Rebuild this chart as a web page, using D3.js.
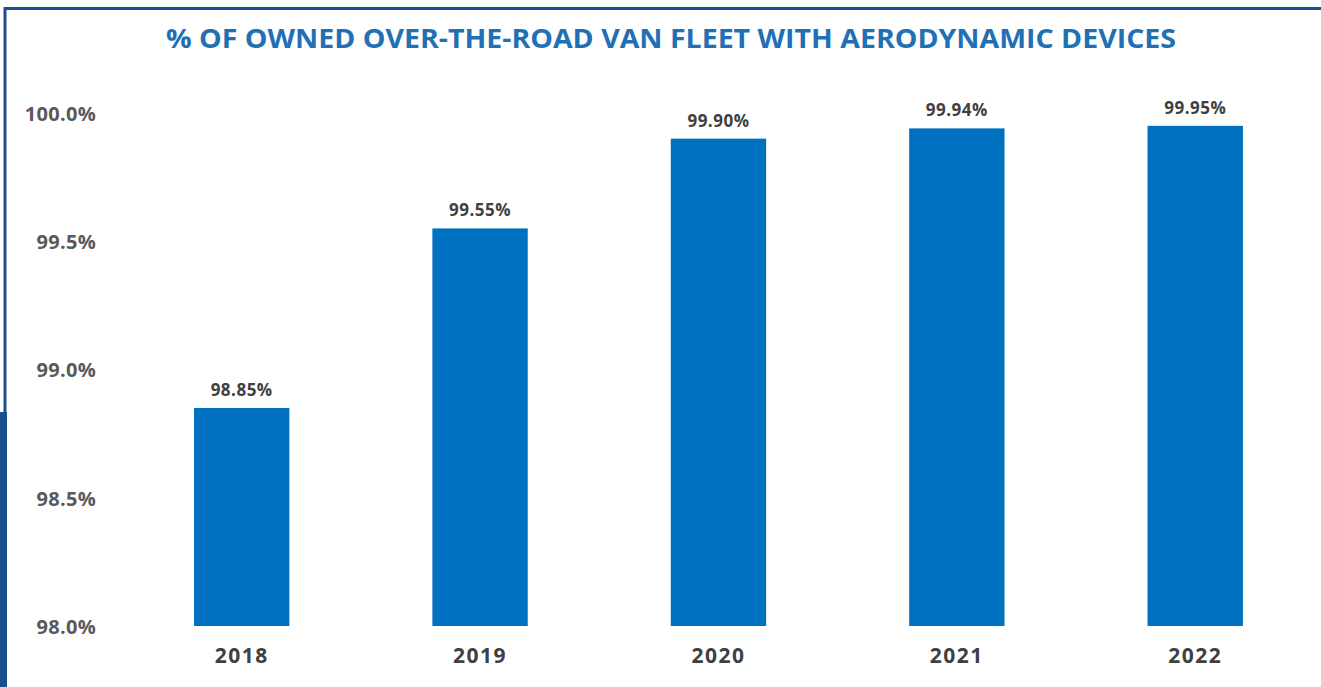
<!DOCTYPE html>
<html><head><meta charset="utf-8">
<script src="https://cdn.jsdelivr.net/npm/d3@7"></script>
<style>html,body{margin:0;padding:0;background:#fff;}svg{display:block;}</style>
</head><body>
<svg id="chart" width="1321" height="687"></svg>
<script>
const years = ["2018","2019","2020","2021","2022"];
const values = [98.85, 99.55, 99.90, 99.94, 99.95];
const valueLabels = ["98.85%","99.55%","99.90%","99.94%","99.95%"];
const yTicks = [98.0, 98.5, 99.0, 99.5, 100.0];
const title = "% OF OWNED OVER-THE-ROAD VAN FLEET WITH AERODYNAMIC DEVICES";

const svg = d3.select("#chart");
const W = 1321, H = 687;

// frame
svg.append("rect").attr("x",0).attr("y",0).attr("width",W).attr("height",H).attr("fill","#fff");
svg.append("line").attr("x1",4).attr("x2",W).attr("y1",8.5).attr("y2",8.5).attr("stroke","#1b4f8e").attr("stroke-width",3);
svg.append("line").attr("x1",5).attr("x2",5).attr("y1",7).attr("y2",414).attr("stroke","#1b4f8e").attr("stroke-width",3);
svg.append("rect").attr("x",0).attr("y",412).attr("width",7).attr("height",H-412).attr("fill","#1a4f8f");

const x = d3.scaleBand().domain(years).range([146.3, 1290.6]).paddingInner(0.6).paddingOuter(0.2);
const y = d3.scaleLinear().domain([98.0, 100.0]).range([626, 113]);

svg.append("text").attr("x",671).attr("y",48).attr("text-anchor","middle")
  .attr("font-family","'Open Sans', sans-serif").attr("font-weight","700").attr("font-size",26)
  .attr("fill","#1f70b5").attr("textLength",1010).attr("lengthAdjust","spacingAndGlyphs").text(title);

const yAxis = d3.axisLeft(y).tickValues(yTicks).tickFormat(d => d3.format(".1f")(d) + "%").tickSize(0).tickPadding(0);
const ga = svg.append("g").attr("transform","translate(96,1)").call(yAxis);
ga.select(".domain").remove();
ga.selectAll("text").attr("font-family","'Open Sans', sans-serif").attr("font-weight","700")
  .attr("font-size",20).attr("fill","#595959").attr("letter-spacing","0.3px");

const xAxis = d3.axisBottom(x).tickSize(0).tickPadding(0);
const gx = svg.append("g").attr("transform","translate(0,648)").call(xAxis);
gx.select(".domain").remove();
gx.selectAll("text").attr("font-family","'Open Sans', sans-serif").attr("font-weight","700")
  .attr("font-size",21).attr("fill","#404040").attr("letter-spacing","1.5px");

svg.append("g").selectAll("rect").data(values).join("rect")
  .attr("x",(d,i)=>x(years[i])).attr("width",x.bandwidth())
  .attr("y",d=>y(d)).attr("height",d=>y(98.0)-y(d)).attr("fill","#0070c0");

svg.append("g").selectAll("text").data(values).join("text")
  .attr("x",(d,i)=>x(years[i])+x.bandwidth()/2).attr("y",d=>y(d)-12)
  .attr("text-anchor","middle").attr("font-family","'Open Sans', sans-serif").attr("font-weight","700")
  .attr("font-size",17).attr("fill","#404040").attr("letter-spacing","0.5px").text((d,i)=>valueLabels[i]);
</script>
</body></html>
